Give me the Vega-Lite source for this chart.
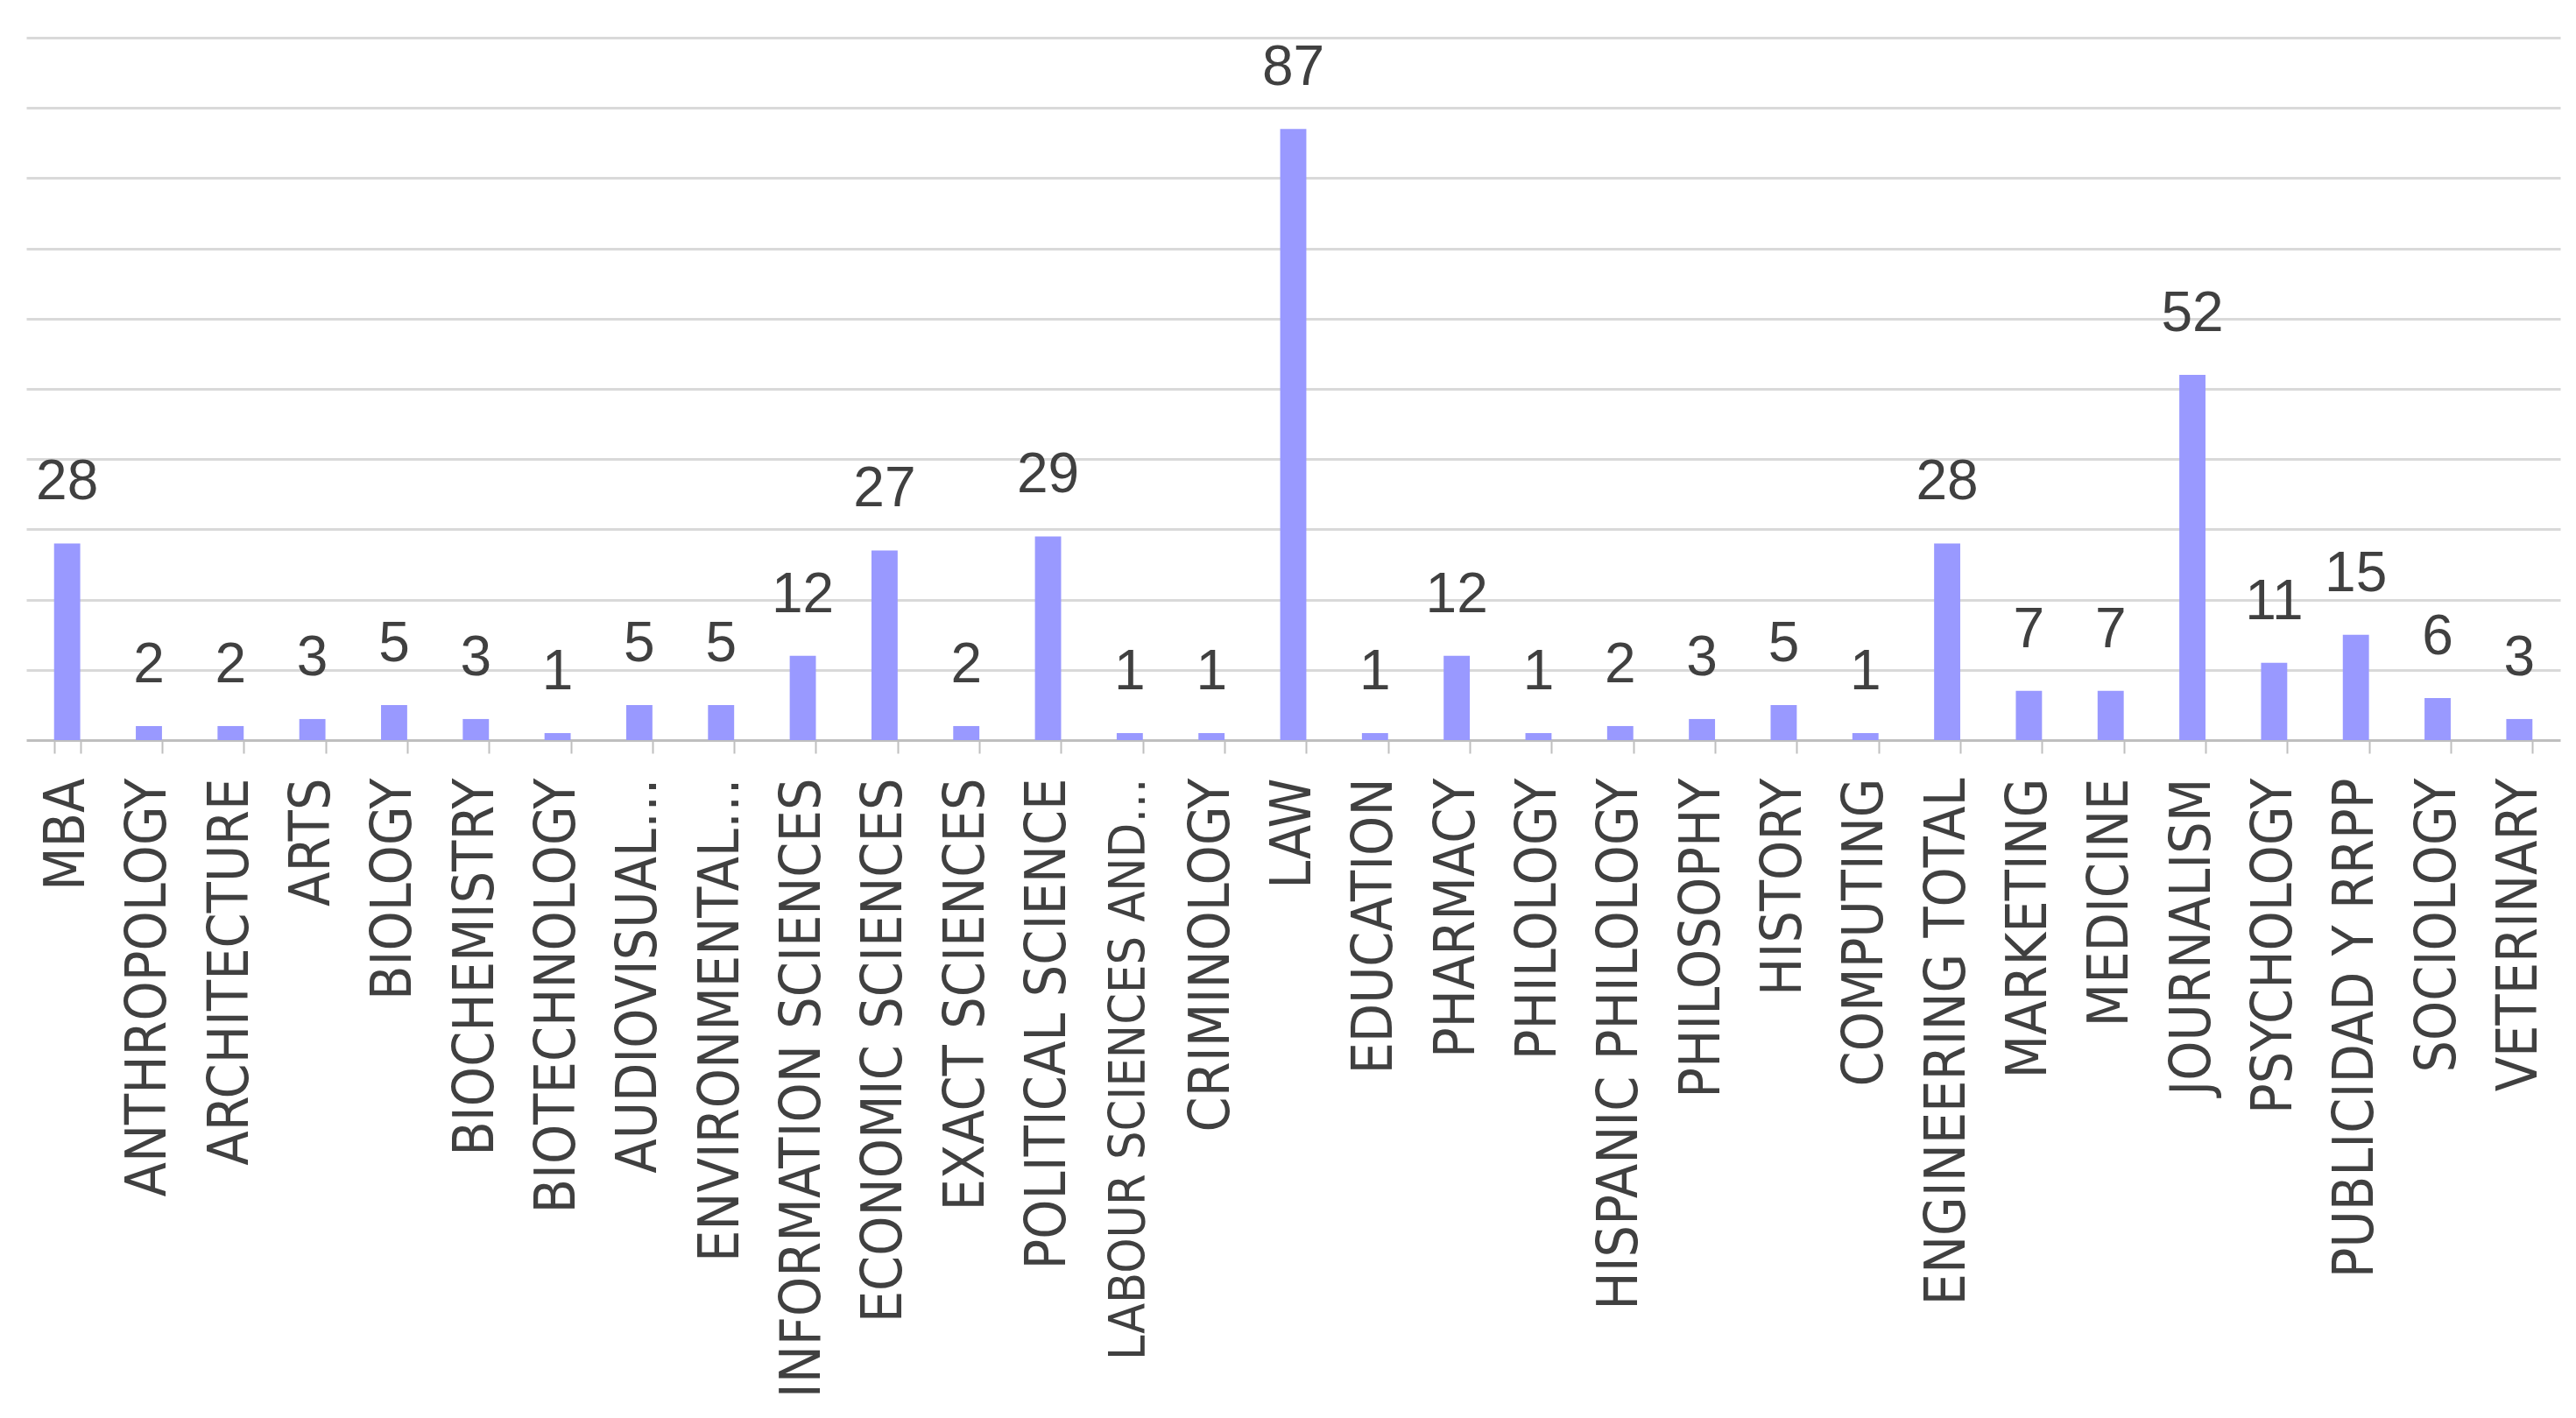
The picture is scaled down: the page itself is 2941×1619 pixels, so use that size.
{
  "$schema": "https://vega.github.io/schema/vega-lite/v6.json",
  "width": 2893,
  "height": 802,
  "autosize": "none",
  "padding": {"left": 30, "top": 43, "right": 18, "bottom": 774},
  "background": "white",
  "config": {"view": {"stroke": null}},
  "data": {"values": [
    {"field": "MBA", "count": 28},
    {"field": "ANTHROPOLOGY", "count": 2},
    {"field": "ARCHITECTURE", "count": 2},
    {"field": "ARTS", "count": 3},
    {"field": "BIOLOGY", "count": 5},
    {"field": "BIOCHEMISTRY", "count": 3},
    {"field": "BIOTECHNOLOGY", "count": 1},
    {"field": "AUDIOVISUAL…", "count": 5},
    {"field": "ENVIRONMENTAL…", "count": 5},
    {"field": "INFORMATION SCIENCES", "count": 12},
    {"field": "ECONOMIC SCIENCES", "count": 27},
    {"field": "EXACT SCIENCES", "count": 2},
    {"field": "POLITICAL SCIENCE", "count": 29},
    {"field": "LABOUR SCIENCES AND…", "count": 1},
    {"field": "CRIMINOLOGY", "count": 1},
    {"field": "LAW", "count": 87},
    {"field": "EDUCATION", "count": 1},
    {"field": "PHARMACY", "count": 12},
    {"field": "PHILOLOGY", "count": 1},
    {"field": "HISPANIC PHILOLOGY", "count": 2},
    {"field": "PHILOSOPHY", "count": 3},
    {"field": "HISTORY", "count": 5},
    {"field": "COMPUTING", "count": 1},
    {"field": "ENGINEERING TOTAL", "count": 28},
    {"field": "MARKETING", "count": 7},
    {"field": "MEDICINE", "count": 7},
    {"field": "JOURNALISM", "count": 52},
    {"field": "PSYCHOLOGY", "count": 11},
    {"field": "PUBLICIDAD Y RRPP", "count": 15},
    {"field": "SOCIOLOGY", "count": 6},
    {"field": "VETERINARY", "count": 3}
  ]},
  "encoding": {
    "x": {
      "field": "field",
      "type": "nominal",
      "sort": null,
      "scale": {"paddingInner": 0.68, "paddingOuter": 0.34},
      "axis": {
        "title": null,
        "labelAngle": -90,
        "labelAlign": "right",
        "labelBaseline": "middle",
        "labelFont": "Liberation Sans Narrow, DejaVu Sans Condensed, Liberation Sans",
        "labelFontSize": {"expr": "datum.value == 'LABOUR SCIENCES AND…' ? 57 : 64"},
        "labelColor": "#404040",
        "labelPadding": 28,
        "labelLimit": 2000,
        "labelOverlap": false,
        "tickBand": "extent",
        "tickSize": 15,
        "tickColor": "#bfbfbf",
        "tickWidth": 2,
        "domainColor": "#bfbfbf",
        "domainWidth": 3,
        "grid": false
      }
    },
    "y": {
      "field": "count",
      "type": "quantitative",
      "scale": {"domain": [0, 100], "nice": false},
      "axis": {
        "title": null,
        "labels": false,
        "ticks": false,
        "domain": false,
        "values": [10, 20, 30, 40, 50, 60, 70, 80, 90, 100],
        "grid": true,
        "gridColor": "#d9d9d9",
        "gridWidth": 3
      }
    }
  },
  "layer": [
    {"mark": {"type": "bar", "color": "#9999ff"}},
    {
      "mark": {
        "type": "text",
        "baseline": "alphabetic",
        "align": "center",
        "dy": -50,
        "font": "Liberation Sans",
        "fontSize": 64,
        "color": "#404040"
      },
      "encoding": {"text": {"field": "count", "type": "quantitative"}}
    }
  ]
}
